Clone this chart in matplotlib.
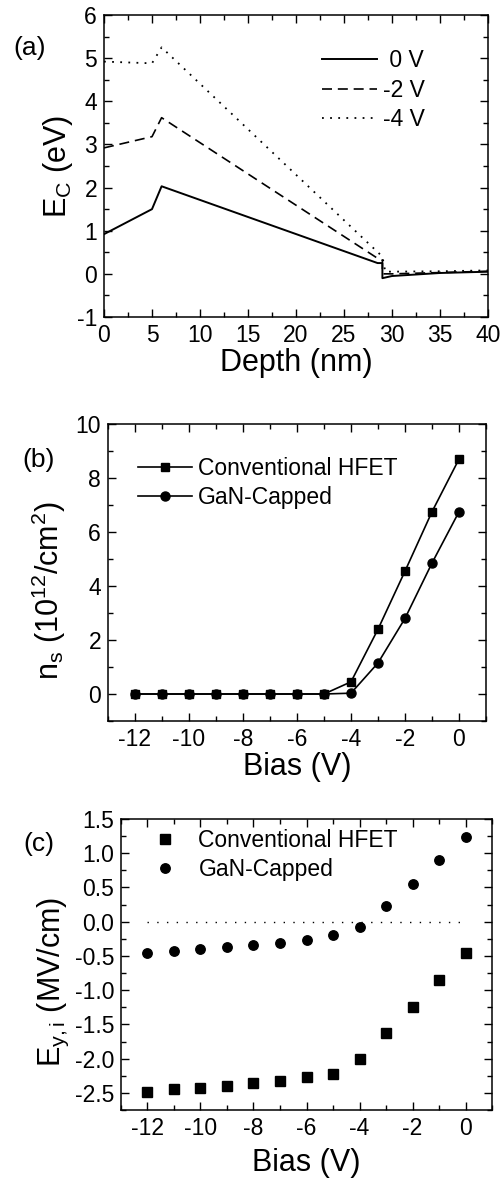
import matplotlib
matplotlib.use('Agg')
import matplotlib.pyplot as plt
from matplotlib.ticker import MultipleLocator, FormatStrFormatter

plt.rcParams['font.family'] = ['Liberation Sans', 'DejaVu Sans']
plt.rcParams['mathtext.fontset'] = 'custom'
plt.rcParams['mathtext.rm'] = 'Liberation Sans'
plt.rcParams['mathtext.it'] = 'Liberation Sans:italic'
plt.rcParams['axes.unicode_minus'] = False

# (a) conduction band profiles
depth_0 = [0, 5, 6, 28.5, 29, 29, 30, 35, 40]
ec_0 = [0.92, 1.5, 2.03, 0.25, 0.25, -0.1, -0.05, 0.02, 0.05]
depth_2 = [0, 5, 6, 28.5, 29, 29, 30, 35, 40]
ec_2 = [2.92, 3.18, 3.62, 0.36, 0.32, 0.0, 0.0, 0.03, 0.06]
depth_4 = [0, 5, 6, 29, 29.3, 35, 40]
ec_4 = [4.92, 4.88, 5.25, 0.4, 0.05, 0.06, 0.08]

# (b) sheet density vs bias
bias = [-12, -11, -10, -9, -8, -7, -6, -5, -4, -3, -2, -1, 0]
ns_conv = [0, 0, 0, 0, 0, 0, 0, 0, 0.45, 2.4, 4.55, 6.75, 8.7]
ns_cap = [0, 0, 0, 0, 0, 0, 0, 0, 0.03, 1.15, 2.8, 4.85, 6.75]

# (c) field vs bias
ey_conv = [-2.48, -2.45, -2.43, -2.40, -2.35, -2.32, -2.27, -2.22, -2.01, -1.63, -1.24, -0.85, -0.46]
ey_cap = [-0.45, -0.43, -0.40, -0.375, -0.34, -0.31, -0.27, -0.20, -0.08, 0.23, 0.555, 0.90, 1.24]

fig = plt.figure(figsize=(5.04, 11.81), dpi=100)
W, H = 504, 1181

def make_ax(l, t, r, b):
    return fig.add_axes([l / W, 1 - b / H, (r - l) / W, (b - t) / H])

def style(ax):
    ax.tick_params(which='both', direction='in', top=True, right=True, labelsize=16.5, width=1)
    ax.tick_params(which='major', length=6, pad=5)
    ax.tick_params(which='minor', length=3.5)
    for s in ax.spines.values():
        s.set_linewidth(1.1)

leg_kw = dict(frameon=False, fontsize=16.5, labelspacing=0.28, borderpad=0, borderaxespad=0)

ax1 = make_ax(104, 15, 488, 317)
ax1.plot(depth_0, ec_0, 'k-', lw=1.4, label=' 0 V')
ax1.plot(depth_2, ec_2, 'k--', lw=1.2, dashes=(6, 3.5), label='-2 V')
ax1.plot(depth_4, ec_4, 'k:', lw=1.3, dashes=(1, 3.5), label='-4 V')
ax1.set_xlim(0, 40)
ax1.set_ylim(-1, 6)
ax1.xaxis.set_major_locator(MultipleLocator(5))
ax1.xaxis.set_minor_locator(MultipleLocator(2.5))
ax1.yaxis.set_major_locator(MultipleLocator(1))
ax1.yaxis.set_minor_locator(MultipleLocator(0.5))
style(ax1)
ax1.set_xlabel('Depth (nm)', fontsize=22, labelpad=1)
ax1.set_ylabel(r'$\mathrm{E_C}$ (eV)', fontsize=22)
ax1.yaxis.set_label_coords(-0.075, 0.5)
ax1.legend(loc='upper left', bbox_to_anchor=(0.568, 0.886), handlelength=2.4,
           handletextpad=0.26, **leg_kw)
fig.text(13 / W, 1 - 48 / H, '(a)', fontsize=19, va='center', ha='left')

ax2 = make_ax(108, 424, 486, 721)
ax2.plot(bias, ns_conv, 'k-s', lw=1.2, ms=6, label='Conventional HFET')
ax2.plot(bias, ns_cap, 'k-o', lw=1.2, ms=6.5, label='GaN-Capped')
ax2.set_xlim(-13, 1)
ax2.set_ylim(-1, 10)
ax2.xaxis.set_major_locator(MultipleLocator(2))
ax2.xaxis.set_minor_locator(MultipleLocator(1))
ax2.yaxis.set_major_locator(MultipleLocator(2))
ax2.yaxis.set_minor_locator(MultipleLocator(1))
style(ax2)
ax2.set_xlabel('Bias (V)', fontsize=22, labelpad=1)
ax2.set_ylabel(r'$\mathrm{n_s}$ ($\mathrm{10^{12}/cm^2}$)', fontsize=22)
ax2.yaxis.set_label_coords(-0.106, 0.44)
ax2.legend(loc='upper left', bbox_to_anchor=(0.079, 0.89), handlelength=2.36,
           handletextpad=0.26, **leg_kw)
fig.text(22 / W, 1 - 460 / H, '(b)', fontsize=19, va='center', ha='left')

ax3 = make_ax(121, 819, 492, 1110)
ax3.plot(bias, ey_conv, 'ks', ms=6.7, ls='none', label='Conventional HFET')
ax3.plot(bias, ey_cap, 'ko', ms=6.8, ls='none', label='GaN-Capped')
ax3.plot([bias[0], bias[-1]], [0, 0], 'k:', lw=1, dashes=(1, 6))
ax3.set_xlim(-13, 1)
ax3.set_ylim(-2.75, 1.5)
ax3.xaxis.set_major_locator(MultipleLocator(2))
ax3.xaxis.set_minor_locator(MultipleLocator(1))
ax3.yaxis.set_major_locator(MultipleLocator(0.5))
ax3.yaxis.set_minor_locator(MultipleLocator(0.25))
ax3.yaxis.set_major_formatter(FormatStrFormatter('%.1f'))
style(ax3)
ax3.set_xlabel('Bias (V)', fontsize=22, labelpad=6)
ax3.set_ylabel(r'$\mathrm{E_{y,i}}$ (MV/cm)', fontsize=22)
ax3.yaxis.set_label_coords(-0.135, 0.44)
ax3.legend(loc='upper left', bbox_to_anchor=(0.073, 0.967), handlelength=1.5,
           handletextpad=0.7, **leg_kw)
fig.text(23 / W, 1 - 844 / H, '(c)', fontsize=19, va='center', ha='left')

fig.savefig('out.png', dpi=100)
